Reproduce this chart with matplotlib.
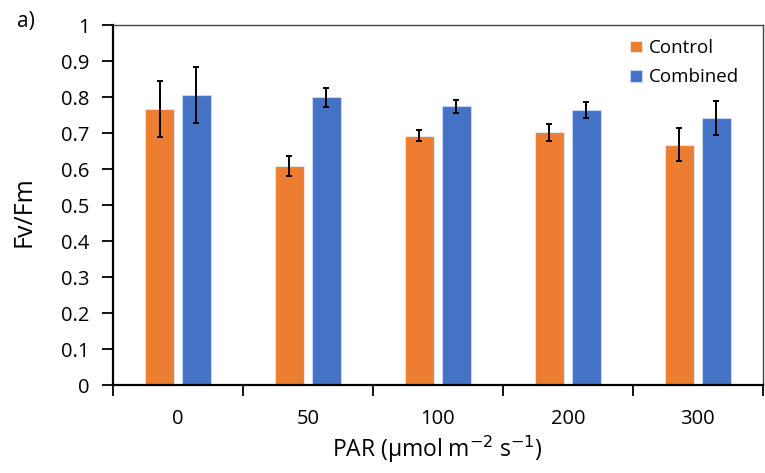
import matplotlib.pyplot as plt
import numpy as np

plt.rcParams['font.family'] = ['Open Sans', 'DejaVu Sans']

categories = ["0", "50", "100", "200", "300"]
control = [0.767, 0.608, 0.693, 0.702, 0.668]
control_err = [0.078, 0.028, 0.015, 0.024, 0.046]
combined = [0.805, 0.799, 0.774, 0.764, 0.742]
combined_err = [0.078, 0.027, 0.017, 0.023, 0.047]

fig = plt.figure(figsize=(7.65, 4.73), dpi=100)
ax = fig.add_axes([0.1477, 0.186, 0.8493, 0.761])

x = np.arange(len(categories))
w = 0.223
off = 0.142
err_kw = dict(ecolor="black", elinewidth=1.4, capsize=2.5, capthick=1.4)
ax.bar(x - off, control, w, yerr=control_err, color="#ED7D31",
       edgecolor="#e6e6e6", linewidth=0.8, label="Control", error_kw=err_kw)
ax.bar(x + off, combined, w, yerr=combined_err, color="#4472C4",
       edgecolor="#c9d6f0", linewidth=0.8, label="Combined", error_kw=err_kw)

ax.set_xlim(-0.5, len(categories) - 0.5)
ax.set_ylim(0, 1)
ax.set_yticks(np.arange(0, 1.01, 0.1))
ax.set_yticklabels(["0"] + [f"{v:.1f}" for v in np.arange(0.1, 0.95, 0.1)] + ["1"])
ax.set_xticks(x)
ax.set_xticklabels(categories)
ax.set_xticks(np.arange(-0.5, len(categories), 1), minor=True)
ax.tick_params(axis="x", which="major", length=0, pad=17, labelsize=14.5)
ax.tick_params(axis="x", which="minor", direction="out", length=8, width=1.3)
ax.tick_params(axis="y", direction="out", length=8, width=1.3, labelsize=14.5, pad=9)

for s in ["left", "bottom"]:
    ax.spines[s].set_linewidth(1.6)
for s in ["top", "right"]:
    ax.spines[s].set_linewidth(1.0)
    ax.spines[s].set_color("#444444")

ax.set_ylabel("Fv/Fm", fontsize=18)
ax.yaxis.set_label_coords(-0.117, 0.483)
ax.set_xlabel("PAR (µmol m$^{-2}$ s$^{-1}$)", fontsize=16.5, labelpad=4)

fig.text(0.022, 0.955, "a)", fontsize=15, va="center")

ax.legend(loc="upper right", bbox_to_anchor=(0.99, 1.008), frameon=False,
          fontsize=13.5, handlelength=0.6, handleheight=0.6,
          handletextpad=0.4, labelspacing=0.6)

fig.savefig("out.png", dpi=100)
